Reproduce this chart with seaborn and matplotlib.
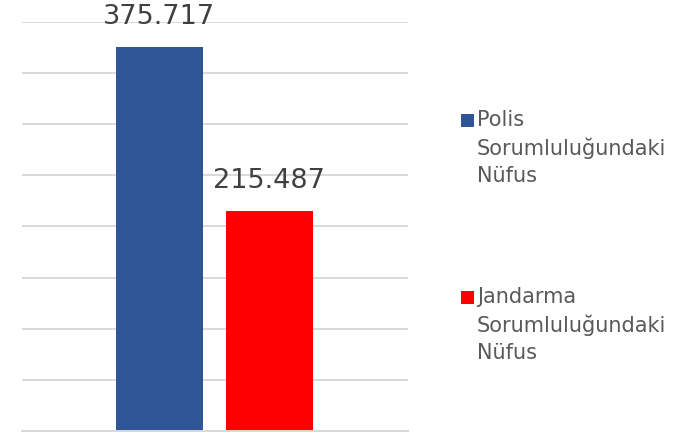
import matplotlib
matplotlib.use("Agg")
import matplotlib.pyplot as plt
from matplotlib.patches import Rectangle
import seaborn as sns
import pandas as pd

categories = ["Polis Sorumluluğundaki Nüfus", "Jandarma Sorumluluğundaki Nüfus"]
values = [375717, 215487]
value_labels = ["375.717", "215.487"]
legend_labels = ["Polis\nSorumluluğundaki\nNüfus", "Jandarma\nSorumluluğundaki\nNüfus"]
colors = ["#2F5597", "#FF0000"]

sns.set_style("white")
plt.rcParams["font.family"] = ["DejaVu Sans"]

df = pd.DataFrame({"kategori": categories, "nufus": values})

fig = plt.figure(figsize=(6.95, 4.37), dpi=100)
ax = fig.add_axes([22 / 695, 6 / 437, 386 / 695, 409 / 437])

sns.barplot(data=df, x="kategori", y="nufus", hue="kategori",
            palette=colors, width=0.79, saturation=1, legend=False,
            linewidth=0, ax=ax)

ax.set_ylim(0, 400000)
ax.set_xlim(-1.25, 2.26)
ax.set_yticks(range(0, 400001, 50000))
ax.yaxis.grid(True, color="#d9d9d9", linewidth=1.4)
ax.set_axisbelow(True)
ax.set_xticks([])
ax.set_yticklabels([])
ax.tick_params(left=False, bottom=False)
ax.set_xlabel("")
ax.set_ylabel("")
for s in ["top", "left", "right"]:
    ax.spines[s].set_visible(False)
ax.spines["bottom"].set_color("#d9d9d9")
ax.spines["bottom"].set_linewidth(1.4)

for i, (v, lab) in enumerate(zip(values, value_labels)):
    ax.annotate(lab, (i, v), xytext=(0, 12), textcoords="offset points",
                ha="center", va="bottom", fontsize=19.5, color="#404040",
                annotation_clip=False)

# legend drawn by hand so the square sits on the first line
legend_tops = [110, 287]
for lab, col, top in zip(legend_labels, colors, legend_tops):
    sq_top = top + 4
    fig.add_artist(Rectangle((461 / 695, 1 - (sq_top + 13) / 437), 13 / 695, 13 / 437,
                             transform=fig.transFigure, color=col, linewidth=0))
    fig.text(477 / 695, 1 - top / 437, lab, ha="left", va="top",
             fontsize=15, color="#595959", linespacing=1.42)

fig.savefig("out.png", dpi=100)
